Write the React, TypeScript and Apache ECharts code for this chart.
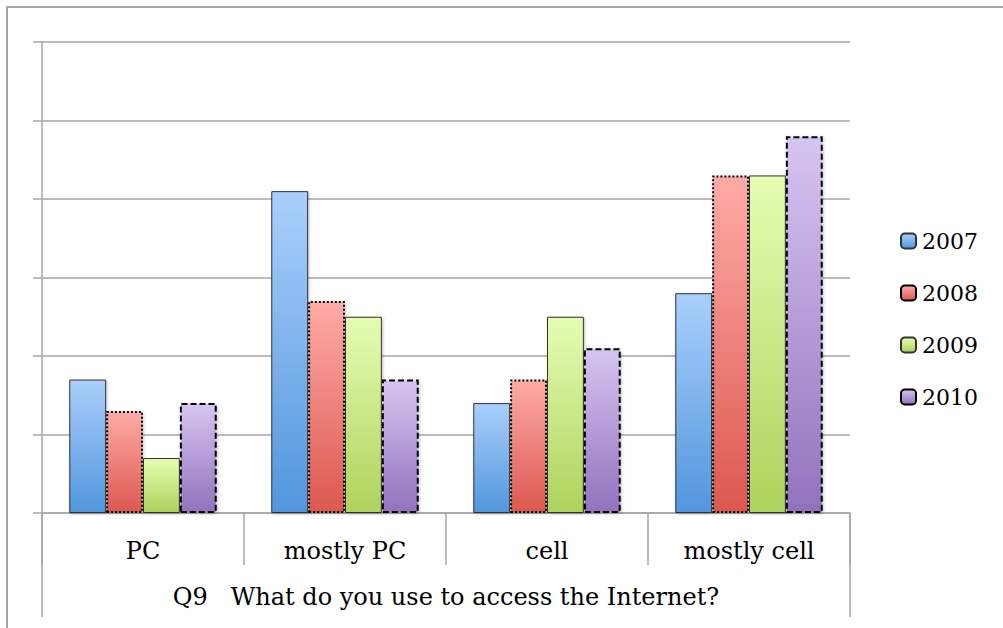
import React, { useEffect, useRef } from "react";
import * as echarts from "echarts";

const categories = ["PC", "mostly PC", "cell", "mostly cell"];
const seriesNames = ["2007", "2008", "2009", "2010"];
const values2007 = [17, 41, 14, 28];
const values2008 = [13, 27, 17, 43];
const values2009 = [7, 25, 25, 43];
const values2010 = [14, 17, 21, 48];
const axisTitle = "Q9\u00a0\u00a0\u00a0What do you use to access the Internet?";

const FONT = "'DejaVu Serif', 'Liberation Serif', serif";
const GRAY = "#a6a6a6";

export default function App() {
  const ref = useRef<HTMLDivElement>(null);
  useEffect(() => {
    const chart = echarts.init(ref.current!, null, { renderer: "svg" });
    const grad = (a: string, b: string) =>
      new echarts.graphic.LinearGradient(0, 0, 0, 1, [
        { offset: 0, color: a },
        { offset: 1, color: b },
      ]);
    const styles = [
      { color: grad("#aacffc", "#5196dc"), borderColor: "#333", borderWidth: 1, borderType: "solid" },
      { color: grad("#ffaba6", "#dc5850"), borderColor: "#000", borderWidth: 2, borderType: [2, 2] },
      { color: grad("#e6fdb2", "#aed25c"), borderColor: "#333", borderWidth: 1, borderType: "solid" },
      { color: grad("#d6c5f1", "#9372bd"), borderColor: "#000", borderWidth: 2, borderType: [6, 3] },
    ];
    const data = [values2007, values2008, values2009, values2010];
    const gridLeft = 42, gridRight = 153, gridTop = 42, gridBottom = 115;
    const W = 1003, H = 628;
    chart.setOption({
      animation: false,
      backgroundColor: "#fff",
      textStyle: { fontFamily: FONT },
      grid: { left: gridLeft, right: gridRight, top: gridTop, bottom: gridBottom, containLabel: false },
      legend: {
        orient: "vertical",
        left: 895,
        top: 225,
        itemWidth: 15,
        itemHeight: 15,
        itemGap: 30,
        data: seriesNames,
        textStyle: { fontFamily: FONT, fontSize: 22, color: "#000", padding: [0, 0, 0, 1] },
      },
      xAxis: {
        type: "category",
        data: categories,
        axisLine: { show: true, lineStyle: { color: GRAY, width: 1.5 } },
        axisTick: { show: true, length: 52, lineStyle: { color: GRAY, width: 1.5 } },
        axisLabel: { fontFamily: FONT, fontSize: 24, color: "#000", margin: 26 },
        name: axisTitle,
        nameLocation: "middle",
        nameGap: 72,
        nameTextStyle: { fontFamily: FONT, fontSize: 24, color: "#000" },
      },
      yAxis: {
        type: "value",
        min: 0,
        max: 60,
        interval: 10,
        axisLine: { show: true, lineStyle: { color: GRAY, width: 1.5 } },
        axisTick: { show: true, length: 9, lineStyle: { color: GRAY, width: 1.5 } },
        axisLabel: { show: false },
        splitLine: { show: true, lineStyle: { color: GRAY, width: 1.5 } },
      },
      series: seriesNames.map((n, i) => ({
        name: n,
        type: "bar",
        data: data[i],
        barGap: "0%",
        barCategoryGap: "27%",
        itemStyle: {
          ...styles[i],
          shadowColor: "rgba(0,0,0,0.25)",
          shadowBlur: 3,
          shadowOffsetX: 1,
          shadowOffsetY: 1,
        },
      })),
      graphic: [
        {
          type: "polyline",
          shape: { points: [[7, H + 5], [7, 7], [W + 5, 7]] },
          style: { stroke: GRAY, lineWidth: 2, fill: "none" },
          silent: true,
        },
        {
          type: "line",
          shape: { x1: gridLeft, y1: H - gridBottom, x2: gridLeft, y2: 617 },
          style: { stroke: GRAY, lineWidth: 1.5 },
          silent: true,
        },
        {
          type: "line",
          shape: { x1: W - gridRight, y1: H - gridBottom, x2: W - gridRight, y2: 617 },
          style: { stroke: GRAY, lineWidth: 1.5 },
          silent: true,
        },
      ],
    });
    return () => chart.dispose();
  }, []);
  return (
    <div
      ref={ref}
      style={{ position: "absolute", left: 0, top: 0, width: 1003, height: 628 }}
    />
  );
}
